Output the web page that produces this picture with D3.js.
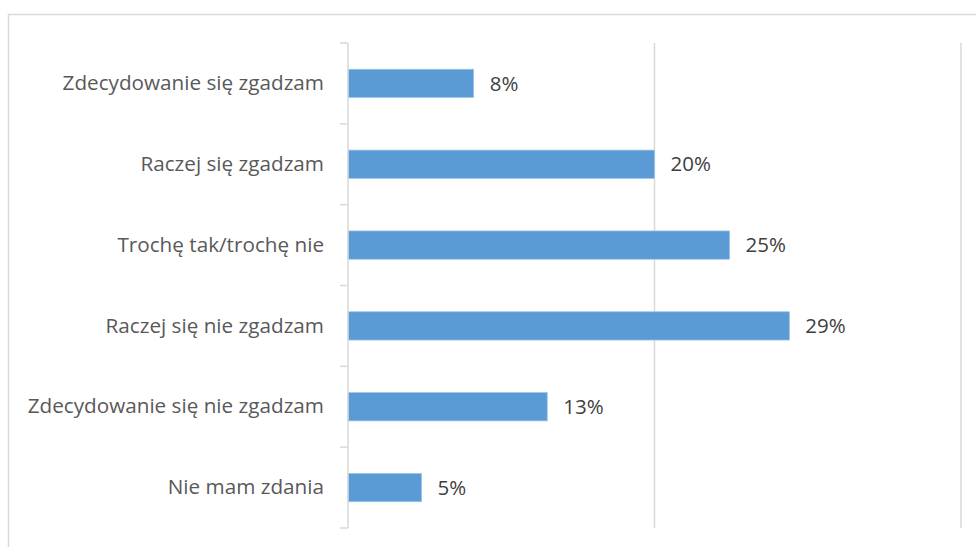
<!DOCTYPE html>
<html lang="pl">
<head>
<meta charset="utf-8">
<title>Wykres słupkowy</title>
<style>
  body { margin:0; background:#fff; }
  svg { display:block; font-family:"Open Sans", sans-serif; }
  .cat text { font-size:20.7px; fill:#595959; }
  .lbl { font-size:20.5px; fill:#404040; }
</style>
</head>
<body>
<div id="canvas"></div>
<script src="https://cdnjs.cloudflare.com/ajax/libs/d3/7.8.5/d3.min.js"></script>
<script>
// categories top to bottom
var categories = ["Zdecydowanie się zgadzam", "Raczej się zgadzam", "Trochę tak/trochę nie",
                  "Raczej się nie zgadzam", "Zdecydowanie się nie zgadzam", "Nie mam zdania"];
// shares in %
var values = [8.2, 20.0, 24.9, 28.8, 13.0, 4.8];
var gridTicks = [0, 20, 40];

var W = 976, H = 547;
var margin = {top:43, right:15, bottom:19, left:348};
var width = 961 - margin.left,
    height = H - margin.top - margin.bottom;

var svg = d3.select("#canvas").append("svg")
    .attr("width", W)
    .attr("height", H);

// chart area frame
svg.append("rect")
    .attr("x", 8.5).attr("y", 14.5)
    .attr("width", W + 10).attr("height", H + 10)
    .attr("fill", "none")
    .attr("stroke", "#d9d9d9")
    .attr("stroke-width", 1.5);

var g = svg.append("g")
    .attr("transform", "translate(" + margin.left + "," + margin.top + ")");

var x = d3.scaleLinear().domain([0, 40]).range([0, width]);
var y = d3.scaleBand().domain(categories).range([0, height]).paddingInner(0.65).paddingOuter(0.325);

// gridlines
g.selectAll("line.grid")
    .data(gridTicks.slice(1))
  .enter().append("line")
    .attr("class", "grid")
    .attr("x1", function(d){ return x(d); })
    .attr("x2", function(d){ return x(d); })
    .attr("y1", 0).attr("y2", height)
    .attr("stroke", "#d9d9d9")
    .attr("stroke-width", 1.5);

// bars
g.selectAll("rect.bar")
    .data(values)
  .enter().append("rect")
    .attr("class", "bar")
    .attr("x", x(0))
    .attr("y", function(d, i){ return y(categories[i]); })
    .attr("width", function(d){ return x(d) - x(0); })
    .attr("height", y.bandwidth())
    .attr("fill", "#5b9bd5")
    .attr("stroke", "#9dc3e6")
    .attr("stroke-width", 0.75);

// value labels
g.selectAll("text.lbl")
    .data(values)
  .enter().append("text")
    .attr("class", "lbl")
    .attr("x", function(d){ return x(d) + 16; })
    .attr("y", function(d, i){ return y(categories[i]) + y.bandwidth()/2; })
    .attr("dy", "0.35em")
    .text(function(d){ return Math.round(d) + "%"; });

// category axis with ticks between categories
var yAxis = g.append("g")
    .attr("class", "cat")
    .call(d3.axisLeft(y).tickSize(0).tickPadding(24));
yAxis.attr("font-family", null).attr("font-size", null);
yAxis.select(".domain")
    .attr("d", "M0,0V" + height)
    .attr("stroke", "#d9d9d9")
    .attr("stroke-width", 1.5);

var step = height / categories.length;
yAxis.selectAll("line.sep")
    .data(d3.range(categories.length + 1))
  .enter().append("line")
    .attr("class", "sep")
    .attr("x1", -8).attr("x2", 0)
    .attr("y1", function(d){ return d * step; })
    .attr("y2", function(d){ return d * step; })
    .attr("stroke", "#d9d9d9")
    .attr("stroke-width", 1.5);
</script>
</body>
</html>
